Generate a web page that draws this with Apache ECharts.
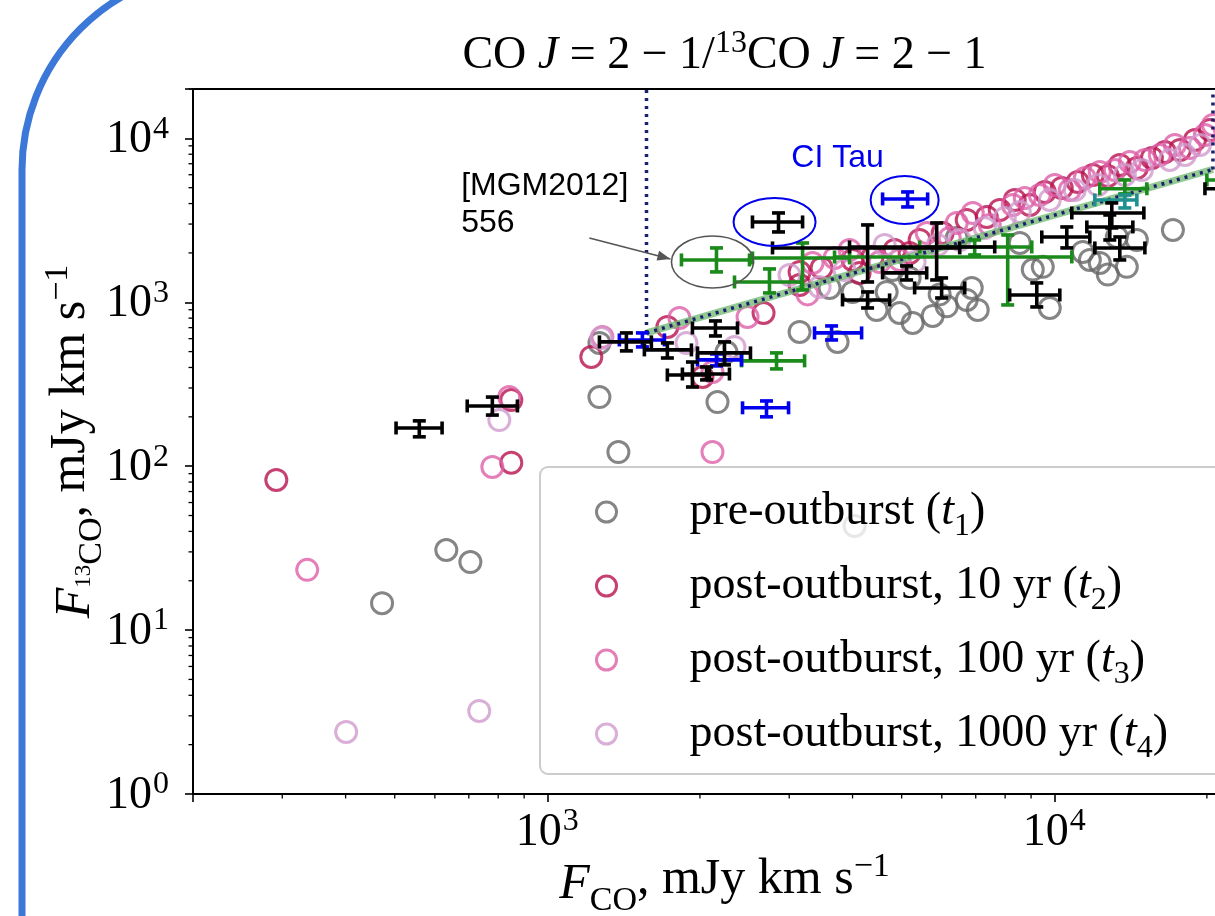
<!DOCTYPE html>
<html>
<head>
<meta charset="utf-8">
<script src="https://cdn.jsdelivr.net/npm/echarts@6/dist/echarts.min.js"></script>
<style>
  html, body { margin: 0; padding: 0; background: #fff; }
  #main { width: 1215px; height: 916px; }
</style>
</head>
<body>
<div id="main"></div>
<script>
// model fluxes [F_CO, F_13CO] in mJy km/s
var preOutburst = [[472,14.6],[632,30.8],[705,26.0],[1267,264],[1381,122],[1267,565],[2166,246],[2256,497],
  [3145,659],[3737,573],[4037,43.2],[3604,1223],[4001,1156],[4462,898],[4670,1156],[4955,860],[5256,748],
  [5756,825],[5942,1117],[6136,944],[6719,1033],[6874,1223],[7063,898],[6420,2468],[4799,1574],[5184,1407],
  [17140,2761],[9797,923],[12752,1476],[9070,1583],[9491,1644],[11385,2027],[11753,1812],[12296,1737],
  [13903,1644],[14551,2399],[8550,2300],[13285,2502]];
var post10 = [[292,82.4],[849,105],[849,253],[1221,464],[1725,707],[2023,350],[2670,860],[3145,1275],
  [3145,1531],[3475,1619],[4001,1812],[4130,1510],[4382,1890],[4843,2085],[5184,1999],[5425,2399],
  [6024,2648],[6719,3178],[7359,3315],[7806,3658],[8356,4209],[8946,3924],[9577,4710],[10346,4982],
  [11127,5420],[11914,5980],[12752,5897],[13467,6882],[14551,6598],[15578,7593],[16527,8261],[17694,8498],
  [18944,9777],[20283,11250]];
var post100 = [[336,23.3],[779,98.9],[841,264],[1284,614],[1822,802],[2117,376],[2483,813],[3261,1117],
  [2117,122],[3336,1737],[3686,1863],[3946,2085],[4524,1762],[4955,1812],[5602,2648],[6219,2468],
  [6420,3047],[6906,3507],[7460,2963],[8282,3924],[8746,4329],[9363,4515],[10023,5196],[10729,4844],
  [11489,5733],[12296,6237],[13164,6415],[14095,7178],[15091,7383],[16155,7918],[17294,9114],[18517,8740],
  [19826,10490],[20561,12070]];
var post1000 = [[401,2.39],[734,3.21],[804,191],[1278,606],[1881,565],[2340,534],[3444,1240],[3004,1468],
  [3857,1574],[4628,2237],[5303,1762],[5888,2237],[6508,2399],[7293,2841],[7986,3268],[8550,3556],
  [9797,4209],[10977,4844],[12188,5196],[13778,5980],[14887,6415],[16904,7383],[18102,7918],[19382,9114]];

// observed sources [x, y, xLow, xHigh, yLow, yHigh]
var obsBlack = [[559,171,503,620,151,189],[779,233,695,873,205,264],[1432,573,1267,1604,505,650],
  [1725,512,1554,1924,457,565],[2146,697,1933,2372,623,769],[2236,491,1978,2516,415,573],
  [1933,360,1725,2088,304,432],[2061,365,1847,2287,336,403],[2858,3090,2539,3188,2685,3506],
  [4283,2145,2781,6508,1330,2963],[5861,2175,3946,7630,1368,3047],[5113,1510,4585,5602,1368,1666],
  [5995,1223,5303,6658,1062,1407],[4283,1033,3822,4733,923,1156],[12985,3506,10829,15022,2841,4036],
  [12868,2880,11594,14289,2399,3409],[10585,2502,9448,11753,2145,2880],[13467,2145,12023,15091,1812,2502],
  [9236,1108,8166,10254,936,1312],[21710,4926,19826,23780,4452,5733]];
var obsBlue = [[1540,589,1387,1702,534,650],[2156,445,1978,2416,409,484],[2706,227,2427,2991,200,250],
  [5137,4269,4585,5626,3815,4710],[3637,650,3366,4168,589,717]];
var obsGreen = [[2156,1812,1839,2505,1531,2145],[2743,1330,2340,3173,1140,1597],[3188,1863,2539,3946,1189,2300],
  [8093,1890,3686,10829,963,2574],[6966,2175,5425,9028,1944,2399],[2832,439,2416,3217,392,491],
  [13778,4926,12296,15227,4580,5575],[22720,5575,20000,26040,4844,6415]];
var obsTeal = [[13778,4209,12023,14551,3762,4515]];

// boundary of the region
var boundLeft = [[1569,650],[1569,20000]];
var boundDiag = [[1569,650],[20561,6462]];
var boundRight = [[20561,6462],[20561,20000]];

var xMinorTicks = [300,400,500,600,700,800,900,2000,3000,4000,5000,6000,7000,8000,9000,20000];
var yMinorTicks = [2,3,4,5,6,7,8,9,20,30,40,50,60,70,80,90,200,300,400,500,600,700,800,900,
  2000,3000,4000,5000,6000,7000,8000,9000,20000];

var seriesNames = ['pre-outburst (t1)', 'post-outburst, 10 yr (t2)', 'post-outburst, 100 yr (t3)', 'post-outburst, 1000 yr (t4)'];
var legendLabels = ['pre-outburst ({i|t}{s|1})', 'post-outburst, 10 yr ({i|t}{s|2})',
  'post-outburst, 100 yr ({i|t}{s|3})', 'post-outburst, 1000 yr ({i|t}{s|4})'];
var colors = ['#666666', '#b8124f', '#dd5fa8', '#cf9bcd'];

var X_MIN = 200, X_MAX = 25000, Y_MIN = 1, Y_MAX = 20000;
var SERIF = 'Liberation Serif';
var FS = 46, FS_SMALL = 32, FS_NAME = 50;

var myChart = echarts.init(document.getElementById('main'));

function powLabel(v) {
  var e = Math.log10(v);
  if (Math.abs(e - Math.round(e)) > 1e-6) return '';
  return '{b|10}{p|' + Math.round(e) + '}';
}
var tickRich = {
  b: { fontFamily: SERIF, fontSize: FS, lineHeight: 50, verticalAlign: 'bottom' },
  p: { fontFamily: SERIF, fontSize: FS_SMALL, lineHeight: 50, verticalAlign: 'top', padding: [0, 0, 0, 1] }
};
var nameRich = {
  i: { fontFamily: SERIF, fontStyle: 'italic', fontSize: FS_NAME, lineHeight: 60, verticalAlign: 'bottom' },
  q: { fontFamily: SERIF, fontSize: 23, lineHeight: 60, verticalAlign: 'bottom', padding: [0, 0, 6, 0] },
  s: { fontFamily: SERIF, fontSize: 34, lineHeight: 60, verticalAlign: 'bottom', padding: [0, 0, -8, 0] },
  p: { fontFamily: SERIF, fontSize: 34, lineHeight: 60, verticalAlign: 'top' }
};

function renderErr(params, api) {
  var c = api.coord([api.value(0), api.value(1)]);
  var xl = api.coord([api.value(2), api.value(1)]);
  var xh = api.coord([api.value(3), api.value(1)]);
  var yl = api.coord([api.value(0), api.value(4)]);
  var yh = api.coord([api.value(0), api.value(5)]);
  var s = { stroke: api.visual('color'), lineWidth: 3.6 };
  var k = 6.5;
  function seg(x1, y1, x2, y2) {
    return { type: 'line', shape: { x1: x1, y1: y1, x2: x2, y2: y2 }, style: s };
  }
  return {
    type: 'group',
    children: [
      seg(xl[0], c[1], xh[0], c[1]),
      seg(c[0], yl[1], c[0], yh[1]),
      seg(xl[0], c[1] - k, xl[0], c[1] + k),
      seg(xh[0], c[1] - k, xh[0], c[1] + k),
      seg(c[0] - k, yl[1], c[0] + k, yl[1]),
      seg(c[0] - k, yh[1], c[0] + k, yh[1])
    ]
  };
}

function errSeries(name, data, color) {
  return {
    name: name, type: 'custom', renderItem: renderErr, data: data,
    itemStyle: { color: color }, encode: { x: [0, 2, 3], y: [1, 4, 5] },
    clip: false, silent: true, z: 6
  };
}

function scatterSeries(i, data) {
  return {
    name: seriesNames[i], type: 'scatter', data: data, symbol: 'circle', symbolSize: 21,
    itemStyle: { color: 'rgba(255,255,255,0)', borderColor: colors[i], borderWidth: 3 },
    z: 2, silent: true
  };
}

function minorTicks(axis) {
  var data = axis === 'x' ? xMinorTicks.map(function (v) { return [v, Y_MIN]; })
                          : yMinorTicks.map(function (v) { return [X_MIN, v]; });
  return {
    type: 'custom', data: data, clip: false, silent: true, z: 8,
    renderItem: function (params, api) {
      var p = api.coord([api.value(0), api.value(1)]);
      var shape = axis === 'x' ? { x1: p[0], y1: p[1], x2: p[0], y2: p[1] + 4.5 }
                               : { x1: p[0], y1: p[1], x2: p[0] - 4.5, y2: p[1] };
      return { type: 'line', shape: shape, style: { stroke: '#000', lineWidth: 1.3 } };
    }
  };
}

function boundLine(data, style) {
  return {
    type: 'line', data: data, showSymbol: false, symbol: 'none', silent: true, z: 4,
    lineStyle: style
  };
}
var dotStyle = { color: '#1c1f6b', width: 3.5, type: [3, 5] };

option = {
  animation: false,
  backgroundColor: '#fff',
  grid: { left: 193, top: 89, width: 1063, height: 705, outerBoundsMode: 'none',
    show: true, borderColor: '#000', borderWidth: 2 },
  xAxis: {
    type: 'log', min: X_MIN, max: X_MAX, logBase: 10,
    splitLine: { show: false },
    axisLine: { lineStyle: { color: '#000', width: 2 } },
    axisTick: { length: 8, lineStyle: { color: '#000', width: 1.6 } },
    axisLabel: { formatter: powLabel, rich: tickRich, color: '#000', margin: 12 },
    name: '{i|F}{s|CO}, mJy km s{p|\u22121}', nameLocation: 'middle', nameGap: 56, nameMoveOverlap: false,
    nameTextStyle: { color: '#000', rich: nameRich, fontFamily: SERIF, fontSize: FS_NAME }
  },
  yAxis: {
    type: 'log', min: Y_MIN, max: Y_MAX, logBase: 10,
    splitLine: { show: false },
    axisLine: { lineStyle: { color: '#000', width: 2 } },
    axisTick: { length: 8, lineStyle: { color: '#000', width: 1.6 } },
    axisLabel: { formatter: powLabel, rich: tickRich, color: '#000', margin: 24 },
    name: '{i|F}{q|13}{s|CO}, mJy km s{p|\u22121}', nameLocation: 'middle', nameGap: 92, nameRotate: 90,
    nameMoveOverlap: false,
    nameTextStyle: { color: '#000', rich: nameRich, fontFamily: SERIF, fontSize: FS_NAME }
  },
  legend: {
    orient: 'vertical', left: 540, top: 467,
    padding: [20, 120, 9, 55], itemGap: 18, itemWidth: 20, itemHeight: 20,
    backgroundColor: 'rgba(255,255,255,0.8)', borderColor: '#cccccc', borderWidth: 2, borderRadius: 8,
    data: seriesNames.map(function (n, i) {
      return { name: n, icon: 'circle',
        itemStyle: { color: 'rgba(255,255,255,0)', borderColor: colors[i], borderWidth: 3 } };
    }),
    formatter: function (name) { return legendLabels[seriesNames.indexOf(name)]; },
    textStyle: {
      color: '#000', fontFamily: SERIF, fontSize: FS, lineHeight: 50, padding: [0, 0, 0, 68],
      rich: {
        i: { fontFamily: SERIF, fontStyle: 'italic', fontSize: FS, lineHeight: 50 },
        s: { fontFamily: SERIF, fontSize: FS_SMALL, lineHeight: 50, verticalAlign: 'bottom', padding: [0, 0, -6, 0] }
      }
    }
  },
  series: [
    scatterSeries(0, preOutburst),
    scatterSeries(1, post10),
    scatterSeries(2, post100),
    scatterSeries(3, post1000),
    boundLine(boundDiag, { color: '#6fb76f', width: 7, opacity: 0.75 }),
    boundLine(boundDiag, dotStyle),
    boundLine(boundLeft, dotStyle),
    boundLine(boundRight, dotStyle),
    errSeries('obs-green', obsGreen, '#1a8a1a'),
    errSeries('obs-teal', obsTeal, '#1f8f8f'),
    errSeries('obs-blue', obsBlue, '#0000ee'),
    errSeries('obs-black', obsBlack, '#000000'),
    minorTicks('x'),
    minorTicks('y')
  ]
};
myChart.setOption(option);

// annotations placed in data coordinates
function px(pt) { return myChart.convertToPixel({ gridIndex: 0 }, pt); }
var grayEll = px([2117, 1762]);
var blueEll1 = px([2807, 3090]);
var blueEll2 = px([5068, 4209]);
var mgmPos = px([676, 3924]);
var ciPos = px([3737, 7593]);
var arrFrom = px([1210, 2468]);
var arrTo = px([1749, 1837]);
var ang = Math.atan2(arrTo[1] - arrFrom[1], arrTo[0] - arrFrom[0]);
var hl = 13, hw = 5;
var head = [
  arrTo,
  [arrTo[0] - hl * Math.cos(ang) + hw * Math.sin(ang), arrTo[1] - hl * Math.sin(ang) - hw * Math.cos(ang)],
  [arrTo[0] - hl * Math.cos(ang) - hw * Math.sin(ang), arrTo[1] - hl * Math.sin(ang) + hw * Math.cos(ang)]
];
var gridMid = px([Math.sqrt(X_MIN * X_MAX), Y_MAX]);

myChart.setOption({
  graphic: [
    { type: 'rect', shape: { x: 22, y: -30, width: 3000, height: 3000, r: 200 },
      style: { fill: 'none', stroke: '#3b78d8', lineWidth: 7 }, z: 100, silent: true },
    { type: 'text', x: gridMid[0], y: 56, z: 100,
      style: { text: 'CO {i|J} = 2 \u2212 1/{p|13}CO {i|J} = 2 \u2212 1', fill: '#000', align: 'center', verticalAlign: 'middle',
        fontFamily: SERIF, fontSize: FS,
        rich: {
          i: { fontFamily: SERIF, fontStyle: 'italic', fontSize: FS, lineHeight: 56 },
          p: { fontFamily: SERIF, fontSize: FS_SMALL, lineHeight: 56, verticalAlign: 'top' }
        } } },
    { type: 'ellipse', shape: { cx: grayEll[0], cy: grayEll[1], rx: 41, ry: 26 },
      style: { fill: 'none', stroke: '#555555', lineWidth: 1.6 }, z: 50 },
    { type: 'ellipse', shape: { cx: blueEll1[0], cy: blueEll1[1], rx: 41, ry: 24 },
      style: { fill: 'none', stroke: '#0000ee', lineWidth: 2 }, z: 50 },
    { type: 'ellipse', shape: { cx: blueEll2[0], cy: blueEll2[1], rx: 34, ry: 24 },
      style: { fill: 'none', stroke: '#0000ee', lineWidth: 2 }, z: 50 },
    { type: 'text', x: mgmPos[0], y: mgmPos[1], z: 50,
      style: { text: '[MGM2012]\n556', fill: '#000', fontFamily: 'Liberation Sans', fontSize: 32, lineHeight: 37,
        align: 'left', verticalAlign: 'middle' } },
    { type: 'text', x: ciPos[0], y: ciPos[1], z: 50,
      style: { text: 'CI Tau', fill: '#0000ee', fontFamily: 'Liberation Sans', fontSize: 32,
        align: 'center', verticalAlign: 'middle' } },
    { type: 'line', shape: { x1: arrFrom[0], y1: arrFrom[1], x2: arrTo[0], y2: arrTo[1] },
      style: { stroke: '#555555', lineWidth: 1.5 }, z: 50 },
    { type: 'polygon', shape: { points: head }, style: { fill: '#555555' }, z: 50 }
  ]
});
</script>
</body>
</html>
